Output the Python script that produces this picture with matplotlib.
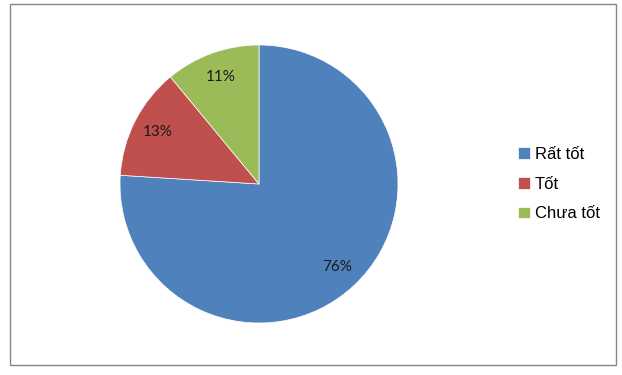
import matplotlib
matplotlib.use('Agg')
import matplotlib.pyplot as plt
from matplotlib.patches import Rectangle

# Data
labels = ['Rất tốt', 'Tốt', 'Chưa tốt']
shares = [76, 13, 11]
colors = ['#4F81BD', '#C0504D', '#9BBB59']

W, H = 622, 375
fig = plt.figure(figsize=(W / 100, H / 100), dpi=100)
fig.patch.set_facecolor('white')

# chart border
fig.patches.append(Rectangle((10 / W, 10 / H), 606 / W, 361 / H,
                             transform=fig.transFigure, fill=False,
                             edgecolor='#868686', linewidth=1.0))

# pie axes: centre (259,184), radius ~139 px
cx, cy, r = 259, 184, 139
ax = fig.add_axes([(cx - r) / W, (H - cy - r) / H, 2 * r / W, 2 * r / H])
wedges, texts, autotexts = ax.pie(
    shares, colors=colors, startangle=90, counterclock=False,
    autopct=lambda p: f'{p:.0f}%', pctdistance=0.82,
    wedgeprops=dict(edgecolor='white', linewidth=0.5),
    textprops=dict(fontsize=11, family=['Lato', 'DejaVu Sans'], color='#1a1a1a'))
ax.set_xlim(-1, 1)
ax.set_ylim(-1, 1)
ax.set_aspect('auto')
ax.axis('off')

leg = fig.legend(wedges, labels, loc='upper left',
                 bbox_to_anchor=(503 / W, 1 - 132 / H),
                 frameon=False, handlelength=0.7, handleheight=0.7,
                 handletextpad=0.3, labelspacing=0.88,
                 prop=dict(family=['Liberation Sans', 'DejaVu Sans'], size=12))

fig.savefig('out.png', dpi=100)
